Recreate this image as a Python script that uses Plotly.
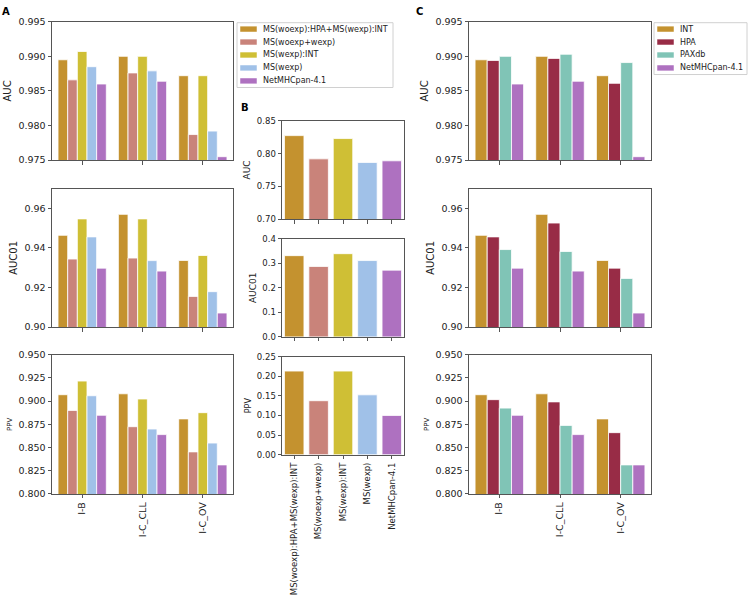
import plotly.graph_objects as go

W, H = 749, 607

samples = ["I-B", "I-C_CLL", "I-C_OV"]

methods_a = ["MS(woexp):HPA+MS(wexp):INT", "MS(woexp+wexp)", "MS(wexp):INT", "MS(wexp)", "NetMHCpan-4.1"]
colors_a = ["#c4922f", "#c9837a", "#cfbf35", "#a0c1e8", "#ae71c0"]

# panel A: one list per method, values for I-B, I-C_CLL, I-C_OV
a_auc = [
    [0.9895, 0.9900, 0.9872],
    [0.9866, 0.9876, 0.9787],
    [0.9907, 0.9900, 0.9872],
    [0.9885, 0.9879, 0.9792],
    [0.9860, 0.9864, 0.9755],
]
a_auc01 = [
    [0.9464, 0.9570, 0.9337],
    [0.9344, 0.9349, 0.9155],
    [0.9547, 0.9547, 0.9362],
    [0.9456, 0.9336, 0.9179],
    [0.9298, 0.9283, 0.9071],
]
a_ppv = [
    [0.9068, 0.9078, 0.8808],
    [0.8899, 0.8724, 0.8453],
    [0.9215, 0.9022, 0.8875],
    [0.9057, 0.8699, 0.8548],
    [0.8847, 0.8639, 0.8313],
]

# panel B: one value per method
b_auc = [0.8275, 0.7920, 0.8230, 0.7865, 0.7890]
b_auc01 = [0.331, 0.287, 0.339, 0.311, 0.272]
b_ppv = [0.213, 0.1375, 0.213, 0.1525, 0.100]

# panel C
methods_c = ["INT", "HPA", "PAXdb", "NetMHCpan-4.1"]
colors_c = ["#c4922f", "#982c46", "#80c4b6", "#ae71c0"]
c_auc = [
    [0.9895, 0.9900, 0.9872],
    [0.9894, 0.9897, 0.9861],
    [0.9900, 0.9903, 0.9891],
    [0.9860, 0.9864, 0.9755],
]
c_auc01 = [
    [0.9464, 0.9570, 0.9337],
    [0.9456, 0.9526, 0.9298],
    [0.9392, 0.9382, 0.9246],
    [0.9298, 0.9283, 0.9071],
]
c_ppv = [
    [0.9068, 0.9078, 0.8808],
    [0.9015, 0.8991, 0.8660],
    [0.8924, 0.8738, 0.8313],
    [0.8847, 0.8639, 0.8313],
]

FONT = "DejaVu Sans"
LINE = "#555555"


def px_x(x):
    return x / W


def px_y(y):
    return 1 - y / H


# pixel boxes of every axes: (left, right, top, bottom)
rows_ac = [(16, 157), (186, 327), (355, 497)]
rows_b = [(117, 217), (237, 337), (357, 457)]
cols = {"A": (52, 233), "B": (282, 404), "C": (469, 651)}

metric_names = ["AUC", "AUC01", "PPV"]
ranges_ac = [[0.975, 0.995], [0.90, 0.97], [0.80, 0.95]]
ticks_ac = [(0.005, ".3f"), (0.02, ".2f"), (0.025, ".3f")]
ranges_b = [[0.70, 0.85], [0.0, 0.4], [0.0, 0.25]]
ticks_b = [(0.05, ".2f"), (0.1, ".1f"), (0.05, ".2f")]
title_sizes_ac = [10, 10, 7]
title_sizes_b = [9, 9, 8]

fig = go.Figure()
layout = {}
k = 0
panels = [
    ("A", a_auc, a_auc01, a_ppv, methods_a, colors_a),
    ("B", b_auc, b_auc01, b_ppv, methods_a, colors_a),
    ("C", c_auc, c_auc01, c_ppv, methods_c, colors_c),
]
for pname, m1, m2, m3, methods, colors in panels:
    left, right = cols[pname]
    for r, data in enumerate([m1, m2, m3]):
        k += 1
        sfx = "" if k == 1 else str(k)
        if pname == "B":
            top, bot = rows_b[r]
            rng, (dt, fmt), tsz, fs = ranges_b[r], ticks_b[r], title_sizes_b[r], 8.5
            fig.add_trace(go.Bar(x=methods, y=data, marker_color=colors,
                                 marker_line=dict(color="white", width=0.8),
                                 xaxis="x" + sfx, yaxis="y" + sfx, showlegend=False))
        else:
            top, bot = rows_ac[r]
            rng, (dt, fmt), tsz, fs = ranges_ac[r], ticks_ac[r], title_sizes_ac[r], 9.5
            for name, col, vals in zip(methods, colors, data):
                fig.add_trace(go.Bar(x=samples, y=vals, name=name, marker_color=col,
                                     marker_line=dict(color="white", width=0.8),
                                     xaxis="x" + sfx, yaxis="y" + sfx, showlegend=False))
        common = dict(showline=True, mirror=True, linecolor=LINE, linewidth=1,
                      ticks="outside", ticklen=3.5, tickwidth=0.8, tickcolor=LINE,
                      showgrid=False, zeroline=False,
                      tickfont=dict(family=FONT, size=fs, color="#222"))
        layout["xaxis" + sfx] = dict(common, domain=[px_x(left), px_x(right)],
                                     anchor="y" + sfx, tickangle=-90,
                                     showticklabels=(r == 2), type="category")
        layout["yaxis" + sfx] = dict(common, domain=[px_y(bot), px_y(top)],
                                     anchor="x" + sfx, range=rng, dtick=dt, tick0=0,
                                     tickformat=fmt,
                                     title=dict(text=metric_names[r], standoff=4,
                                                font=dict(family=FONT, size=tsz, color="#222")))

fig.update_layout(**layout)

# legends drawn as boxes + labels
shapes = []
annotations = []
item_h = 13.2


def draw_legend(x0, x1, y0, names, colors):
    shapes.append(dict(type="rect", xref="paper", yref="paper",
                       x0=px_x(x0), x1=px_x(x1), y0=px_y(y0 + item_h * len(names)), y1=px_y(y0),
                       line=dict(color="#d0d0d0", width=1), fillcolor="white"))
    for i, (name, col) in enumerate(zip(names, colors)):
        yc = y0 + 6.5 + item_h * i
        shapes.append(dict(type="rect", xref="paper", yref="paper",
                           x0=px_x(x0 + 3), x1=px_x(x0 + 20), y0=px_y(yc + 3), y1=px_y(yc - 3),
                           line=dict(color="white", width=0.5), fillcolor=col))
        annotations.append(dict(text=name, xref="paper", yref="paper", x=px_x(x0 + 24),
                                y=px_y(yc), xanchor="left", yanchor="middle", showarrow=False,
                                font=dict(family=FONT, size=8, color="#222")))


draw_legend(237, 393, 17, methods_a, colors_a)
draw_legend(654, 747, 17, methods_c, colors_c)

for letter, x, y in [("A", 6, 6), ("B", 245, 103), ("C", 420, 6)]:
    annotations.append(dict(text="<b>" + letter + "</b>", xref="paper", yref="paper",
                            x=px_x(x), y=px_y(y), xanchor="center", yanchor="middle",
                            showarrow=False, font=dict(family=FONT, size=10, color="black")))

fig.update_layout(
    width=W, height=H,
    margin=dict(l=0, r=0, t=0, b=0),
    paper_bgcolor="white", plot_bgcolor="white",
    barmode="group", bargap=0.2, bargroupgap=0,
    shapes=shapes, annotations=annotations,
    font=dict(family=FONT, color="#222"),
    showlegend=False,
)

# the page's default 8px body margin would push the figure off the right edge
fig.write_html("out.html", config={"displayModeBar": False},
               post_script="document.body.style.margin='0';")
